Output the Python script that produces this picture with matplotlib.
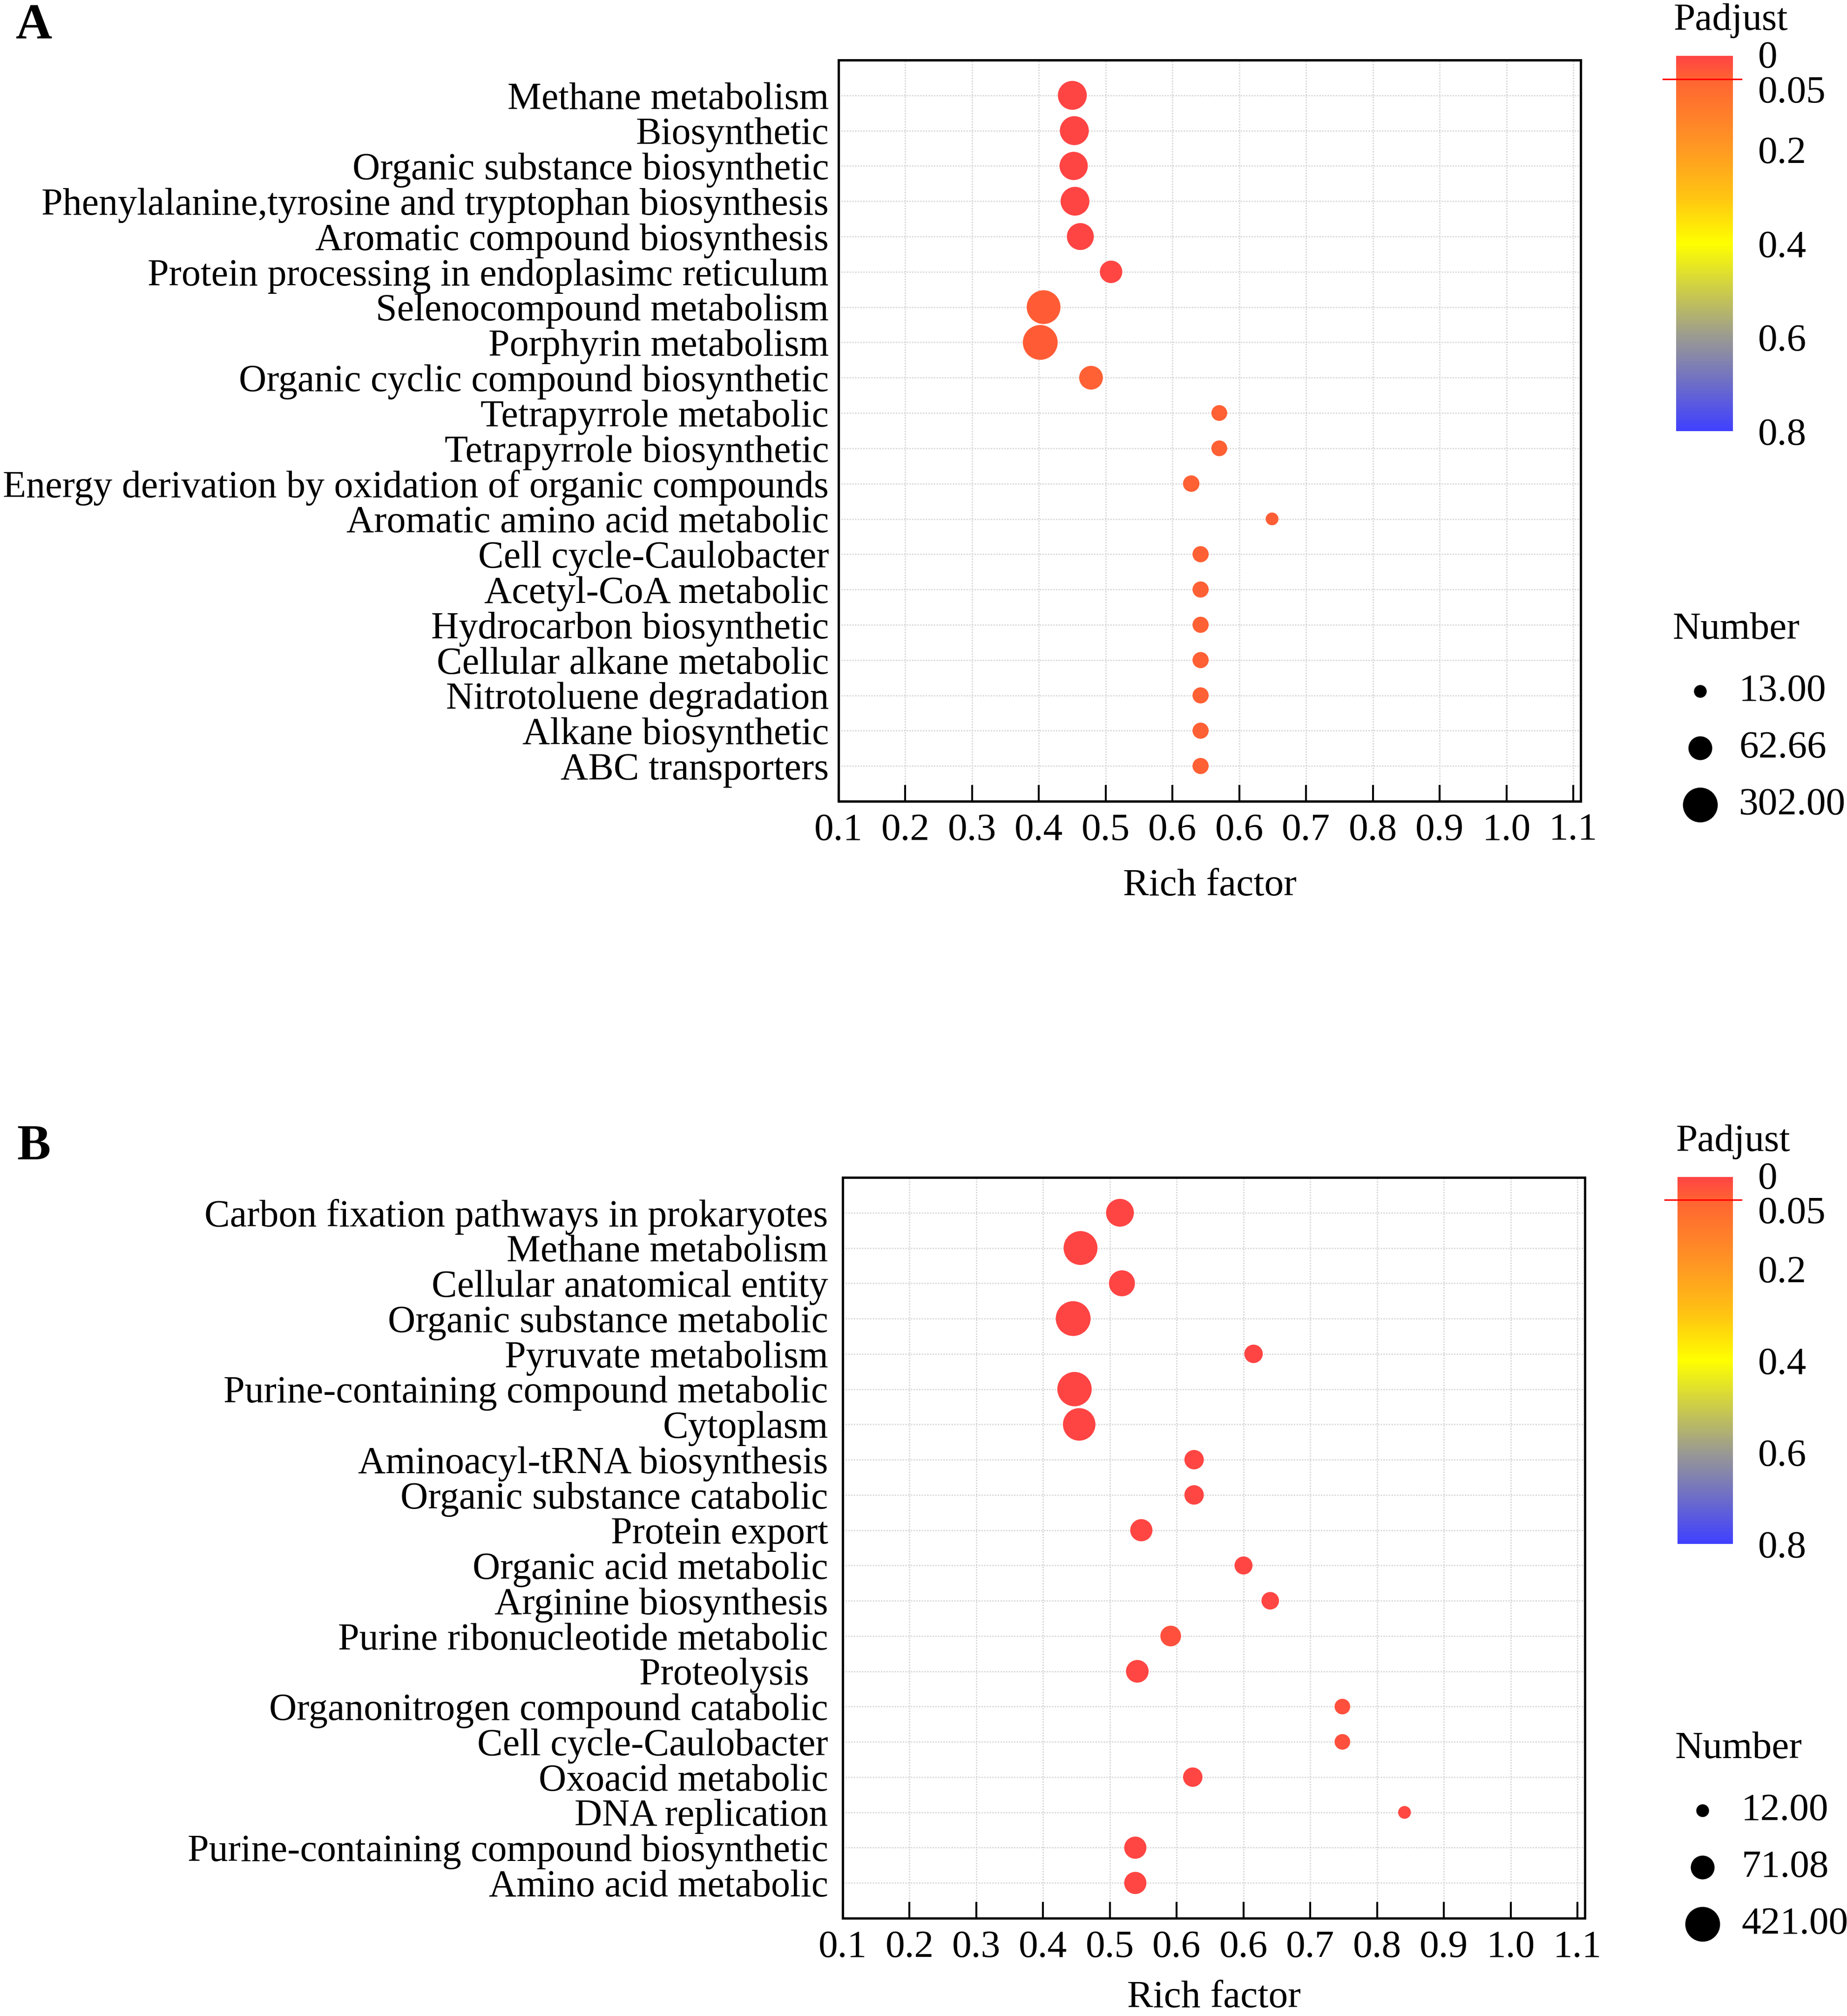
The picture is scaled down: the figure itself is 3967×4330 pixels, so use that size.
import numpy as np
import matplotlib
matplotlib.use("Agg")
import matplotlib.pyplot as plt
from matplotlib.colors import LinearSegmentedColormap, Normalize
from matplotlib.transforms import ScaledTranslation

plt.rcParams['font.family'] = ['Liberation Serif', 'DejaVu Serif']

W, H, DPI = 3967, 4330, 300

# ---- panel A: enrichment terms ----
terms_a = ["Methane metabolism", "Biosynthetic", "Organic substance biosynthetic",
           "Phenylalanine,tyrosine and tryptophan biosynthesis", "Aromatic compound biosynthesis",
           "Protein processing in endoplasimc reticulum", "Selenocompound metabolism",
           "Porphyrin metabolism", "Organic cyclic compound biosynthetic", "Tetrapyrrole metabolic",
           "Tetrapyrrole biosynthetic", "Energy derivation by oxidation of organic compounds",
           "Aromatic amino acid metabolic", "Cell cycle-Caulobacter", "Acetyl-CoA metabolic",
           "Hydrocarbon biosynthetic", "Cellular alkane metabolic", "Nitrotoluene degradation",
           "Alkane biosynthetic", "ABC transporters"]
rich_a = [0.450, 0.453, 0.452, 0.454, 0.462, 0.508, 0.407, 0.402, 0.478, 0.670,
          0.670, 0.628, 0.749, 0.642, 0.642, 0.642, 0.642, 0.642, 0.642, 0.642]
count_a = [130, 131, 118, 128, 98, 52, 260, 302, 62, 20,
           20, 22, 13, 21, 21, 21, 21, 21, 21, 21]
padj_a = [0.002, 0.002, 0.002, 0.002, 0.003, 0.006, 0.040, 0.040, 0.045, 0.046,
          0.046, 0.046, 0.042, 0.046, 0.046, 0.046, 0.046, 0.046, 0.046, 0.046]
legend_a = [13.00, 62.66, 302.00]

# ---- panel B ----
terms_b = ["Carbon fixation pathways in prokaryotes", "Methane metabolism",
           "Cellular anatomical entity", "Organic substance metabolic", "Pyruvate metabolism",
           "Purine-containing compound metabolic", "Cytoplasm", "Aminoacyl-tRNA biosynthesis",
           "Organic substance catabolic", "Protein export", "Organic acid metabolic",
           "Arginine biosynthesis", "Purine ribonucleotide metabolic", "Proteolysis  ",
           "Organonitrogen compound catabolic", "Cell cycle-Caulobacter", "Oxoacid metabolic",
           "DNA replication", "Purine-containing compound biosynthetic", "Amino acid metabolic"]
rich_b = [0.515, 0.456, 0.518, 0.445, 0.715, 0.447, 0.454, 0.626, 0.626, 0.547,
          0.700, 0.740, 0.591, 0.541, 0.848, 0.848, 0.624, 0.941, 0.538, 0.538]
count_b = [136, 362, 101, 421, 30, 390, 290, 35, 35, 55,
           28, 26, 43, 59, 19, 19, 35, 12, 55, 55]
padj_b = [0.002, 0.001, 0.002, 0.001, 0.003, 0.001, 0.002, 0.004, 0.004, 0.004,
          0.005, 0.005, 0.020, 0.004, 0.020, 0.020, 0.006, 0.008, 0.004, 0.004]
legend_b = [12.00, 71.08, 421.00]

# axis ticks (the labels repeat 0.6 like the original figure)
x_ticks = [0.1, 0.2, 0.3, 0.4, 0.5, 0.6, 0.7, 0.8, 0.9, 1.0, 1.1, 1.2]
x_labels = ["0.1", "0.2", "0.3", "0.4", "0.5", "0.6", "0.6", "0.7", "0.8", "0.9", "1.0", "1.1"]
cb_ticks = [0, 0.05, 0.2, 0.4, 0.6, 0.8]
cb_labels = ["0", "0.05", "0.2", "0.4", "0.6", "0.8"]

cmap = LinearSegmentedColormap.from_list("padj", [
    (0.0, "#ff4444"), (0.05 / 0.8, "#ff6432"), (0.2 / 0.8, "#ff9a22"),
    (0.3 / 0.8, "#ffc412"), (0.4 / 0.8, "#ffff00"), (0.6 / 0.8, "#9a9a92"), (1.0, "#4040ff")])
norm = Normalize(0, 0.8)

FS = 20
FS_TERMS = 19.7
R_MIN, R_MAX = 13.7, 37.4   # marker radius in pixels


def px_box(left, top, right, bottom):
    return [left / W, 1 - bottom / H, (right - left) / W, (bottom - top) / H]


def marker_size(n, lo, hi):
    # radius grows with log(count)
    n = np.asarray(n, dtype=float)
    frac = (np.log(n) - np.log(lo)) / (np.log(hi) - np.log(lo))
    r_pt = (R_MIN + (R_MAX - R_MIN) * frac) * 72 / DPI
    return (2 * r_pt) ** 2


fig = plt.figure(figsize=(W / DPI, H / DPI), dpi=DPI)
ov = fig.add_axes([0, 0, 1, 1])
ov.set_xlim(0, W)
ov.set_ylim(H, 0)
ov.axis('off')


def panel(box, cbox, terms, rich, count, padj, leg_vals, letter, letter_xy, pj_xy, num_xy,
          ypad=5, xlabpad=10.5):
    ax = fig.add_axes(px_box(*box))
    lo, hi = leg_vals[0], leg_vals[-1]
    y = np.arange(len(terms))
    sc = ax.scatter(rich, y, s=marker_size(count, lo, hi), c=padj, cmap=cmap, norm=norm,
                    linewidths=0, zorder=3)
    ax.set_ylim(len(terms), -1)
    ax.set_xlim(0.1, 1.211)
    ax.set_yticks(y, terms)
    ax.set_xticks(x_ticks, x_labels)
    ax.tick_params(axis='y', length=0, pad=ypad, labelsize=FS_TERMS)
    ax.tick_params(axis='x', direction='in', length=8.4, width=1.0, pad=6, labelsize=FS)
    for s in ax.spines.values():
        s.set_linewidth(1.2)
    ax.grid(True, color='#d8d8d8', linestyle=(0, (1, 1)), linewidth=0.7)
    ax.set_axisbelow(True)
    ax.set_xlabel("Rich factor", fontsize=FS, labelpad=xlabpad)

    # colour bar for Padjust
    cax = fig.add_axes(px_box(*cbox))
    cb = fig.colorbar(sc, cax=cax)
    cb.outline.set_visible(False)
    cax.invert_yaxis()
    cb.set_ticks(cb_ticks, labels=cb_labels)
    cax.tick_params(length=0, pad=13, labelsize=FS)
    labs = cax.get_yticklabels()
    labs[0].set_transform(labs[0].get_transform() + ScaledTranslation(0, 4 / DPI, fig.dpi_scale_trans))
    labs[1].set_transform(labs[1].get_transform() + ScaledTranslation(0, -21 / DPI, fig.dpi_scale_trans))
    cax.axhline(0.05, xmin=-0.23, xmax=1.15, color='red', linewidth=0.8, clip_on=False)

    ov.text(letter_xy[0], letter_xy[1], letter, fontsize=26, fontweight='bold',
            ha='center', va='baseline')
    ov.text(pj_xy[0], pj_xy[1], "Padjust", fontsize=FS, ha='left', va='baseline')

    # size legend
    nx, ny = num_xy
    ov.text(nx, ny, "Number", fontsize=FS, ha='left', va='baseline')
    leg_y = [ny + 113 + 122 * i for i in range(len(leg_vals))]
    ov.scatter([nx + 59] * len(leg_vals), leg_y, s=marker_size(leg_vals, lo, hi),
               color='black', linewidths=0)
    for v, yy in zip(leg_vals, leg_y):
        ov.text(nx + 142, yy, f"{v:.2f}", fontsize=FS, ha='left', va='center')
    return ax


panel((1801, 129, 3395, 1721), (3600, 120, 3722, 926), terms_a, rich_a, count_a, padj_a,
      legend_a, "A", (73, 82), (3595, 64), (3593, 1372))
panel((1810, 2529, 3404, 4120), (3603, 2528, 3722, 3316), terms_b, rich_b, count_b, padj_b,
      legend_b, "B", (72, 2490), (3600, 2472), (3598, 3776), ypad=7.5, xlabpad=8)

fig.savefig("out.png", dpi=DPI)
